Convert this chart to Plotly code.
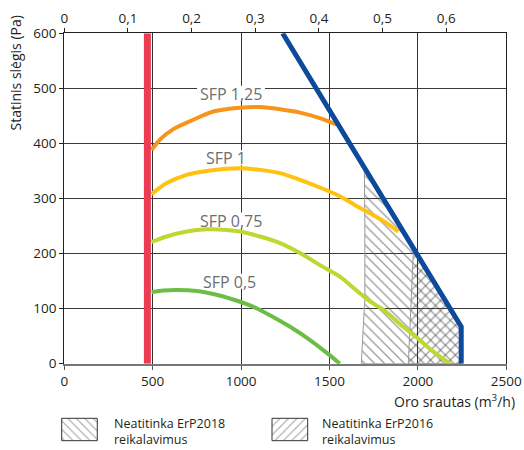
import plotly.graph_objects as go

# ---------------- data ----------------
x_ticks = [0, 500, 1000, 1500, 2000, 2500]
y_ticks = [0, 100, 200, 300, 400, 500, 600]
top_tickvals = [0, 0.1, 0.2, 0.3, 0.4, 0.5, 0.6]
top_ticktext = ["0", "0,1", "0,2", "0,3", "0,4", "0,5", "0,6"]

sfp125_x = [494, 541, 617, 730, 843, 994, 1107, 1220, 1333, 1446, 1541]
sfp125_y = [388, 407, 426, 443, 458, 465, 466, 462, 456, 446, 434]

sfp1_x = [494, 579, 692, 805, 918, 994, 1107, 1220, 1333, 1446, 1559, 1650, 1729, 1810, 1889]
sfp1_y = [308, 328, 343, 350, 354, 355, 352, 346, 334, 320, 304, 287, 273, 258, 240]

sfp075_x = [494, 579, 692, 805, 918, 994, 1107, 1220, 1333, 1446, 1559, 1616, 1729, 1804, 1917, 1999, 2087, 2182]
sfp075_y = [221, 231, 240, 244, 243, 240, 231, 219, 201, 179, 158, 143, 113, 98, 67, 46, 22, 0]

sfp05_x = [494, 560, 636, 750, 850, 950, 1050, 1163, 1277, 1390, 1499, 1558]
sfp05_y = [130, 133, 134, 132, 126, 117, 106, 88, 67, 43, 16, 0]

min_flow_x = [470, 470]
min_flow_y = [0, 600]

max_x = [1235, 2245, 2245]
max_y = [600, 67, 0]

erp2018_x = [1680, 1700, 1700, 1697, 2245, 2245, 1680]
erp2018_y = [0, 120, 250, 355, 67, 0, 0]

erp2016_x = [1946, 1975, 2245, 2245, 1946]
erp2016_y = [0, 210, 67, 0, 0]

sfp_labels = ["SFP 1,25", "SFP 1", "SFP 0,75", "SFP 0,5"]
sfp_label_x = [943, 915, 943, 937]
sfp_label_y = [490, 373, 260, 149]

legend_texts = ["Neatitinka ErP2018<br>reikalavimus", "Neatitinka ErP2016<br>reikalavimus"]

# ---------------- layout helpers ----------------
W, H = 524, 450
def px(x):
    return x / W
def py(y):
    return 1 - y / H

FONT = "Open Sans"
TXT = "#231f20"

fig = go.Figure()

# hatched regions
fig.add_trace(go.Scatter(x=erp2018_x, y=erp2018_y, fill="toself", mode="lines",
                         line=dict(color="#9a9a9a", width=1),
                         fillcolor="rgba(0,0,0,0)",
                         fillpattern=dict(shape="\\", fgcolor="#3a3a3a", bgcolor="rgba(0,0,0,0)",
                                          size=7, solidity=0.19),
                         hoverinfo="skip", showlegend=False))
fig.add_trace(go.Scatter(x=erp2016_x, y=erp2016_y, fill="toself", mode="lines",
                         line=dict(color="#9a9a9a", width=1),
                         fillcolor="rgba(0,0,0,0)",
                         fillpattern=dict(shape="/", fgcolor="#3a3a3a", bgcolor="rgba(0,0,0,0)",
                                          size=7, solidity=0.19),
                         hoverinfo="skip", showlegend=False))

curves = [
    (sfp05_x, sfp05_y, "#6cbd45"),
    (sfp075_x, sfp075_y, "#bfd730"),
    (sfp1_x, sfp1_y, "#ffc20e"),
    (sfp125_x, sfp125_y, "#f7941d"),
]
for cx, cy, col in curves:
    fig.add_trace(go.Scatter(x=cx, y=cy, mode="lines", line=dict(color=col, width=4, shape="spline", smoothing=0.8),
                             hoverinfo="skip", showlegend=False))

fig.add_trace(go.Scatter(x=min_flow_x, y=min_flow_y, mode="lines", line=dict(color="#ec3c52", width=7),
                         hoverinfo="skip", showlegend=False))
fig.add_trace(go.Scatter(x=max_x, y=max_y, mode="lines", line=dict(color="#0d4a9b", width=5),
                         hoverinfo="skip", showlegend=False))

# invisible trace to bind the top (m3/s) axis
fig.add_trace(go.Scatter(x=[v / 3600 for v in min_flow_x], y=min_flow_y, xaxis="x2", yaxis="y",
                         mode="lines", line=dict(color="rgba(0,0,0,0)", width=0),
                         hoverinfo="skip", showlegend=False))

# legend swatches on an auxiliary axis
legend_boxes = [((61.7, 97.3), "\\"), ((272, 307.7), "/")]
for (x0, x1), shp in legend_boxes:
    fig.add_trace(go.Scatter(x=[x0, x1, x1, x0, x0], y=[418.3, 418.3, 440.7, 440.7, 418.3],
                             xaxis="x3", yaxis="y3", fill="toself", mode="lines",
                             line=dict(color="#333333", width=1), fillcolor="rgba(0,0,0,0)",
                             fillpattern=dict(shape=shp, fgcolor="#444444", bgcolor="rgba(0,0,0,0)",
                                              size=6, solidity=0.18),
                             hoverinfo="skip", showlegend=False))

# white masks behind the SFP labels (between gridlines and traces)
shapes = []
label_half_w = [34, 21, 34, 29]
for xv, yv, hw in zip(sfp_label_x, sfp_label_y, label_half_w):
    shapes.append(dict(type="rect", xref="x", yref="y", layer="between",
                       xsizemode="pixel", xanchor=xv, x0=-hw, x1=hw,
                       ysizemode="pixel", yanchor=yv, y0=-7, y1=8,
                       fillcolor="white", line=dict(width=0)))

annotations = []
for t, xv, yv in zip(sfp_labels, sfp_label_x, sfp_label_y):
    annotations.append(dict(x=xv, y=yv, xref="x", yref="y", text=t, showarrow=False,
                            xanchor="center", yanchor="middle",
                            font=dict(family=FONT, size=16, color="#6d6e71")))

annotations.append(dict(x=px(15), y=py(73.5), xref="paper", yref="paper", text="Statinis slėgis (Pa)",
                        xanchor="center", yanchor="middle",
                        textangle=-90, showarrow=False, font=dict(family=FONT, size=14, color=TXT)))
annotations.append(dict(x=px(517), y=py(401), xref="paper", yref="paper", xanchor="right", yanchor="middle",
                        text="Oro srautas (m<sup>3</sup>/h)", showarrow=False,
                        font=dict(family=FONT, size=14, color=TXT)))

legend_text_x = [111.7, 320.3]
for t, tx in zip(legend_texts, legend_text_x):
    annotations.append(dict(x=px(tx), y=py(431), xref="paper", yref="paper", xanchor="left", yanchor="middle",
                            align="left", text=t, showarrow=False,
                            font=dict(family=FONT, size=12.5, color=TXT)))

xdom = [px(64.3), px(506.3)]
ydom = [py(363.7), py(33.3)]

fig.update_layout(
    width=W, height=H,
    margin=dict(l=0, r=0, t=0, b=0, autoexpand=False),
    paper_bgcolor="white", plot_bgcolor="white",
    font=dict(family=FONT, size=13.5, color=TXT),
    showlegend=False,
    xaxis=dict(domain=xdom, range=[0, 2500], tickvals=x_ticks, showgrid=True, automargin=False,
               gridcolor="#333333", gridwidth=1.2, zeroline=False,
               showline=True, linecolor="#777777", linewidth=2,
               ticks="outside", ticklen=4, tickcolor="#555555",
               tickfont=dict(family=FONT, size=13.5, color=TXT), anchor="y"),
    xaxis2=dict(overlaying="x", side="top", range=[0, 2500 / 3600], tickvals=top_tickvals,
                ticktext=top_ticktext, showgrid=False, zeroline=False, automargin=False,
                showline=True, linecolor="#222222", linewidth=1.3,
                ticks="outside", ticklen=4, tickcolor="#222222",
                tickfont=dict(family=FONT, size=13.5, color=TXT), anchor="y"),
    yaxis=dict(domain=ydom, range=[0, 600], tickvals=y_ticks, showgrid=True, automargin=False,
               gridcolor="#3a3a3a", gridwidth=1.3, zeroline=False,
               showline=True, linecolor="#222222", linewidth=1.3, mirror=True,
               ticks="outside", ticklen=4, tickcolor="#222222",
               tickfont=dict(family=FONT, size=13.5, color=TXT), anchor="x"),
    xaxis3=dict(domain=[0, 1], range=[0, W], visible=False, anchor="y3", automargin=False),
    yaxis3=dict(domain=[py(448), py(410)], range=[448, 410], visible=False, anchor="x3", automargin=False),
    shapes=shapes,
    annotations=annotations,
)

fig.write_html("out.html", config={"displayModeBar": False},
               post_script="document.body.style.margin='0';")
